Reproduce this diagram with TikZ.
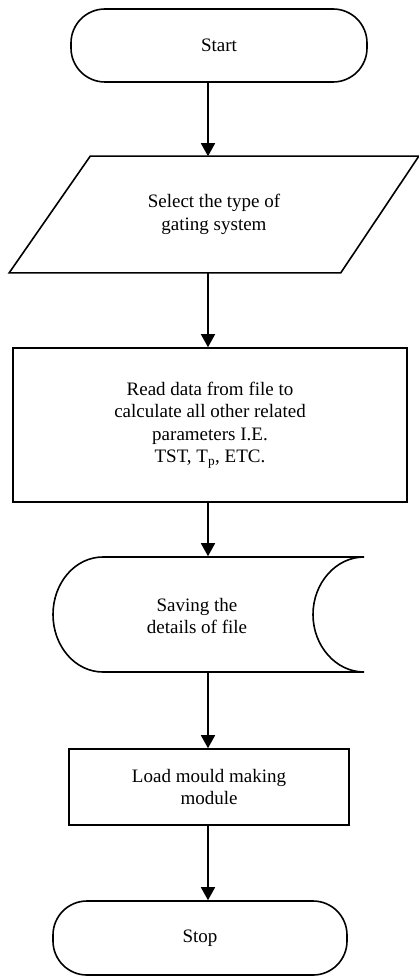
\documentclass[tikz,border=0pt]{standalone}
\usepackage{fontspec}
\setmainfont{Liberation Serif}
\usetikzlibrary{arrows.meta}

\begin{document}
\begin{tikzpicture}[x=1pt,y=-1pt,line width=1.6pt,>={Triangle[width=14pt,length=13pt]},
  txt/.style={font=\fontsize{19}{22.5}\selectfont,align=center},
  term/.style={txt,draw,rounded corners=34pt,minimum width=296pt,minimum height=73pt},
  proc/.style={txt,draw,inner sep=0pt}]
\useasboundingbox (0,0) rectangle (419,976);
\coordinate (axis) at (208,0);

\node[term] (start) at (219,45.5) {Start};

% input / output
\node[txt,minimum width=408pt,minimum height=115pt] (sel) at (214,214.5) {Select the type of\\gating system};
\draw ([xshift=81pt]sel.north west) -- (sel.north east) -- ([xshift=-78pt]sel.south east) -- (sel.south west) -- cycle;

\node[proc,minimum width=394pt,minimum height=154pt] (read) at (210,425) {Read data from file to\\calculate all other related\\parameters I.E.\\TST, T\textsubscript{p}, ETC.};

% stored data
\node[minimum width=311pt,minimum height=115pt] (save) at (208.5,614.5) {};
\node[txt] (savetxt) at (197,616) {Saving the\\details of file};
\draw (103,557) -- (364,557) .. controls (336,557) and (313,583) .. (313,614.5)
  .. controls (313,646) and (336,672) .. (364,672) -- (103,672)
  .. controls (75,672) and (53,646) .. (53,614.5) .. controls (53,583) and (75,557) .. (103,557) -- cycle;

\node[proc,minimum width=280pt,minimum height=76pt] (load) at (209,787) {Load mould making\\module};

\node[term,minimum width=294pt,minimum height=74pt] (stop) at (200,938) {Stop};

\draw[->] (start.south -| axis) -- (sel.north -| axis);
\draw[->] (sel.south -| axis) -- (read.north -| axis);
\draw[->] (read.south -| axis) -- (save.north -| axis);
\draw[->] (save.south -| axis) -- (load.north -| axis);
\draw[->] (load.south -| axis) -- (stop.north -| axis);
\end{tikzpicture}
\end{document}
